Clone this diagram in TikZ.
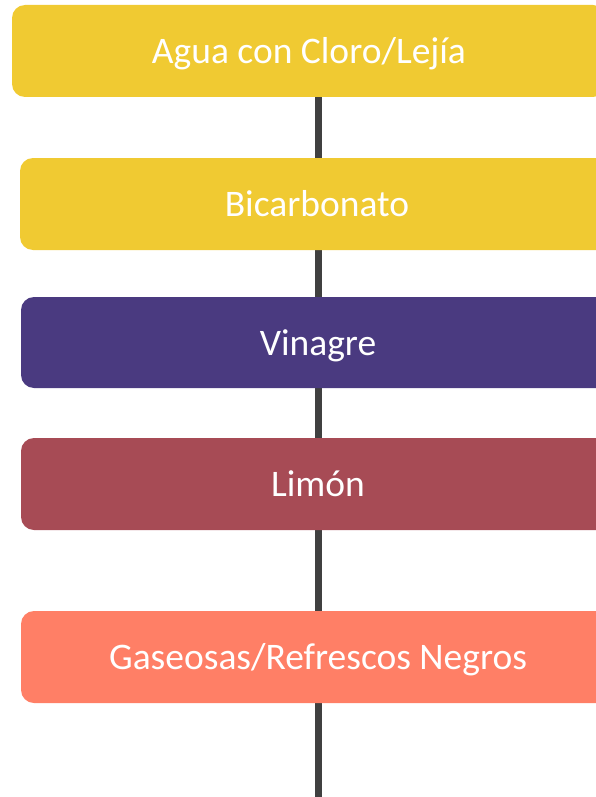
\documentclass[tikz,border=0pt]{standalone}
\usepackage{fontspec}
\setmainfont{Carlito}
\usetikzlibrary{backgrounds}
\definecolor{cyellow}{RGB}{240,202,50}
\definecolor{cpurple}{RGB}{74,58,128}
\definecolor{cred}{RGB}{167,75,85}
\definecolor{csalmon}{RGB}{255,127,102}
\definecolor{cline}{RGB}{64,64,64}
\tikzset{
  stepbox/.style={rectangle, rounded corners=13pt, minimum width=594pt, minimum height=92pt,
    inner sep=0pt, text height=26pt, text depth=1pt, text=white,
    font=\fontsize{37.5}{40}\selectfont, anchor=center},
  spine/.style={draw=cline, line width=7pt}
}
\begin{document}
\begin{tikzpicture}[x=1pt,y=-1pt]
\useasboundingbox (0,0) rectangle (596,797);
\clip (0,0) rectangle (596,797);
\node[stepbox, fill=cyellow] (a) at (309,51) {Agua con Cloro/Lejía};
\node[stepbox, fill=cyellow] (b) at (317,204) {Bicarbonato};
\node[stepbox, fill=cpurple, minimum height=91pt] (c) at (318,342.5) {Vinagre};
\node[stepbox, fill=cred] (d) at (318,484) {Limón};
\node[stepbox, fill=csalmon] (e) at (318,657) {Gaseosas/Refrescos Negros};
\coordinate (end) at (318,797);
\begin{scope}[on background layer]
\draw[spine] (a.south -| end) -- (b.north -| end);
\draw[spine] (b.south -| end) -- (c.north -| end);
\draw[spine] (c.south -| end) -- (d.north -| end);
\draw[spine] (d.south -| end) -- (e.north -| end);
\draw[spine] (e.south -| end) -- (end);
\end{scope}
\end{tikzpicture}
\end{document}
